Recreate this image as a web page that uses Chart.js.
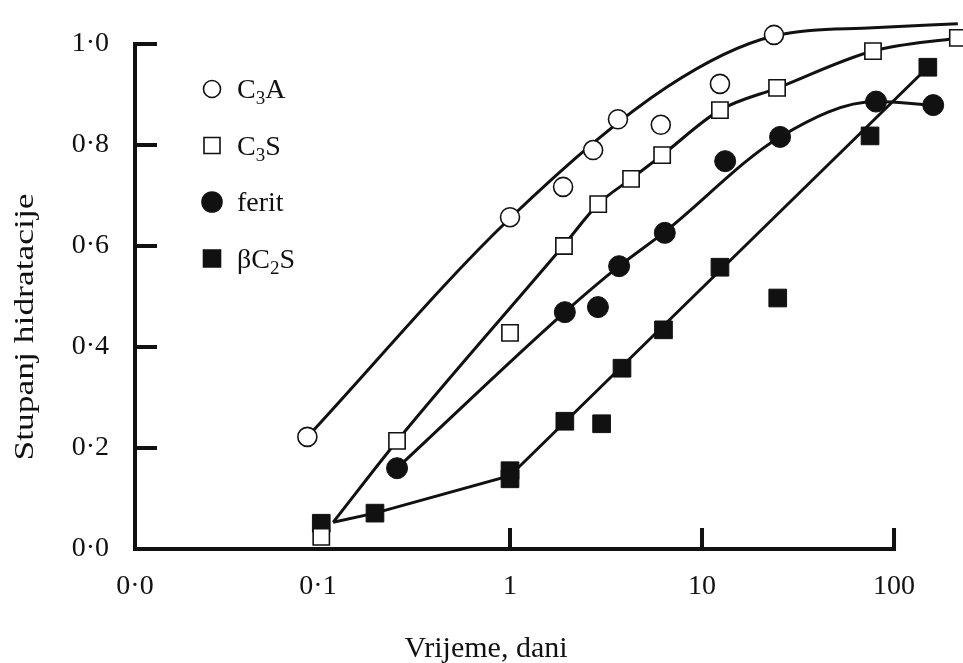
<!DOCTYPE html>
<html>
<head>
<meta charset="utf-8">
<title>Stupanj hidratacije</title>
<script src="https://cdn.jsdelivr.net/npm/chart.js@4.4.1/dist/chart.umd.min.js"></script>
<style>
  html, body { margin: 0; padding: 0; background: #fff; }
  #wrap { width: 963px; height: 663px; }
</style>
</head>
<body>
<div id="wrap"><canvas id="hydChart" width="963" height="663"></canvas></div>
<script>
// measured points (time in days, degree of hydration)
var c3aDays     = [0.088, 1.0, 1.89, 2.71, 3.65, 6.1, 12.4, 23.7, 77.7, 215];
var c3aDegree   = [0.222, 0.657, 0.717, 0.79, 0.851, 0.84, 0.921, 1.018, 1.034, 1.04];
var c3sDays     = [0.104, 0.258, 1.0, 1.91, 2.88, 4.27, 6.2, 12.4, 24.6, 77.7, 215];
var c3sDegree   = [0.024, 0.214, 0.428, 0.60, 0.683, 0.733, 0.78, 0.869, 0.913, 0.986, 1.012];
var feritDays   = [0.258, 1.93, 2.87, 3.7, 6.4, 13.2, 25.5, 80.6, 160];
var feritDegree = [0.16, 0.469, 0.479, 0.56, 0.626, 0.768, 0.816, 0.886, 0.879];
var c2sDays     = [0.104, 0.198, 1.0, 1.0, 1.93, 3.0, 3.83, 6.3, 12.4, 24.8, 75, 150];
var c2sDegree   = [0.051, 0.071, 0.155, 0.139, 0.253, 0.248, 0.358, 0.434, 0.558, 0.497, 0.818, 0.954];

// hand drawn trend curves as they appear in the figure
var c3aFitDays     = [0.088, 1.0, 6.57, 23.7, 77.7, 215];
var c3aFitDegree   = [0.222, 0.655, 0.915, 1.016, 1.032, 1.04];
var c3sFitDays     = [0.12, 0.258, 1.91, 2.88, 4.27, 6.2, 12.4, 24.8, 77.7, 215];
var c3sFitDegree   = [0.053, 0.214, 0.602, 0.683, 0.733, 0.78, 0.869, 0.913, 0.986, 1.012];
var feritFitDays   = [0.258, 1.93, 3.7, 6.3, 25.5, 80.6, 160];
var feritFitDegree = [0.16, 0.469, 0.56, 0.626, 0.816, 0.886, 0.879];
var c2sFitDays     = [0.12, 0.198, 1.0, 150];
var c2sFitDegree   = [0.053, 0.071, 0.145, 0.954];

// axes
var xMin = 0.01114, xMax = 228.7;
var xTickValues = [xMin, 0.1, 1, 10, 100];
var xTickLabels = ['0·0', '0·1', '1', '10', '100'];
var xTickMarks  = [1, 10, 100];
var yTickValues = [0, 0.2, 0.4, 0.6, 0.8, 1.0];

var FONT = "'Liberation Serif', 'Times New Roman', serif";
var INK = '#111';

function pts(xs, ys) {
    return xs.map(function (x, i) { return { x: x, y: ys[i] }; });
}

// smooth = monotone cubic, otherwise straight segments
function curve(xs, ys, smooth) {
    return {
        data: pts(xs, ys),
        showLine: true,
        pointRadius: 0,
        pointHoverRadius: 0,
        borderColor: INK,
        borderWidth: 3,
        cubicInterpolationMode: smooth ? 'monotone' : 'default',
        tension: 0,
        clip: false,
        order: 2
    };
}

function marks(label, xs, ys, style, radius, filled) {
    return {
        label: label,
        data: pts(xs, ys),
        showLine: false,
        pointStyle: style,
        pointRadius: radius,
        pointHoverRadius: radius,
        pointBackgroundColor: filled ? INK : '#fff',
        pointBorderColor: INK,
        pointBorderWidth: filled ? 1 : 1.6,
        clip: false,
        order: 1
    };
}

// legend entries: main text, subscript, rest
var legendItems = [
    { style: 'circle', filled: false, parts: ['C', '3', 'A'] },
    { style: 'rect', filled: false, parts: ['C', '3', 'S'] },
    { style: 'circle', filled: true, parts: ['ferit', '', ''] },
    { style: 'rect', filled: true, parts: ['βC', '2', 'S'] }
];

function drawMarker(ctx, style, filled, x, y) {
    ctx.beginPath();
    if (style === 'circle') {
        ctx.arc(x, y, filled ? 10 : 8.5, 0, Math.PI * 2);
    } else {
        var h = filled ? 8.5 : 8;
        ctx.rect(x - h, y - h, 2 * h, 2 * h);
    }
    ctx.fillStyle = filled ? INK : '#fff';
    ctx.fill();
    ctx.lineWidth = 1.6;
    ctx.strokeStyle = INK;
    ctx.stroke();
}

var paperPlugin = {
    id: 'paperLook',
    beforeDraw: function (chart) {
        var ctx = chart.ctx;
        ctx.save();
        ctx.fillStyle = '#fff';
        ctx.fillRect(0, 0, chart.width, chart.height);
        ctx.restore();
    },
    beforeDatasetsDraw: function (chart) {
        var ctx = chart.ctx, xs = chart.scales.x, ys = chart.scales.y;
        var x0 = xs.getPixelForValue(xMin);
        var y0 = ys.getPixelForValue(0);
        var xEnd = xs.getPixelForValue(100);
        var yTop = ys.getPixelForValue(1);
        ctx.save();
        ctx.strokeStyle = INK;
        ctx.lineWidth = 4;
        ctx.beginPath();
        ctx.moveTo(x0, yTop - 2);
        ctx.lineTo(x0, y0);
        ctx.moveTo(x0 - 2, y0);
        ctx.lineTo(xEnd + 2, y0);
        yTickValues.forEach(function (v) {
            var py = ys.getPixelForValue(v);
            ctx.moveTo(x0, py);
            ctx.lineTo(x0 + 22, py);
        });
        xTickMarks.forEach(function (v) {
            var px = xs.getPixelForValue(v);
            ctx.moveTo(px, y0);
            ctx.lineTo(px, y0 - 21);
        });
        ctx.stroke();
        ctx.restore();
    },
    afterDraw: function (chart) {
        var ctx = chart.ctx;
        ctx.save();
        ctx.fillStyle = INK;

        // legend
        legendItems.forEach(function (item, i) {
            var cy = 89 + i * 56.5;
            drawMarker(ctx, item.style, item.filled, 212, cy);
            var tx = 237, base = cy + 9;
            ctx.fillStyle = INK;
            ctx.textBaseline = 'alphabetic';
            ctx.textAlign = 'left';
            ctx.font = '28px ' + FONT;
            ctx.fillText(item.parts[0], tx, base);
            tx += ctx.measureText(item.parts[0]).width;
            if (item.parts[1]) {
                ctx.font = '19px ' + FONT;
                ctx.fillText(item.parts[1], tx, base + 6);
                tx += ctx.measureText(item.parts[1]).width;
            }
            ctx.font = '28px ' + FONT;
            ctx.fillText(item.parts[2], tx, base);
        });

        // axis titles
        ctx.font = '30px ' + FONT;
        ctx.textAlign = 'center';
        ctx.textBaseline = 'alphabetic';
        ctx.fillText('Vrijeme, dani', 486, 657);

        ctx.translate(33, 327);
        ctx.rotate(-Math.PI / 2);
        ctx.font = '28px ' + FONT;
        var w = ctx.measureText('Stupanj hidratacije').width;
        ctx.scale(267 / w, 1);
        ctx.fillText('Stupanj hidratacije', 0, 0);
        ctx.restore();
    }
};

var ctx = document.getElementById('hydChart').getContext('2d');
var chart = new Chart(ctx, {
    type: 'scatter',
    data: {
        datasets: [
            marks('C3A', c3aDays, c3aDegree, 'circle', 9.5, false),
            marks('C3S', c3sDays, c3sDegree, 'rect', 11.5, false),
            marks('ferit', feritDays, feritDegree, 'circle', 10.5, true),
            marks('βC2S', c2sDays, c2sDegree, 'rect', 12.5, true),
            curve(c3aFitDays, c3aFitDegree, true),
            curve(c3sFitDays, c3sFitDegree, true),
            curve(feritFitDays, feritFitDegree, true),
            curve(c2sFitDays, c2sFitDegree, false)
        ]
    },
    options: {
        responsive: false,
        animation: false,
        devicePixelRatio: 1,
        layout: {
            autoPadding: false,
            padding: { top: 44, right: 0, left: 0, bottom: 0 }
        },
        plugins: {
            legend: { display: false },
            tooltip: { enabled: false }
        },
        scales: {
            x: {
                type: 'logarithmic',
                min: xMin,
                max: xMax,
                grid: { display: false, drawTicks: false },
                border: { display: false },
                afterBuildTicks: function (scale) {
                    scale.ticks = xTickValues.map(function (v) { return { value: v }; });
                },
                afterFit: function (scale) {
                    scale.height = 114;
                    scale.paddingLeft = 0;
                    scale.paddingRight = 0;
                },
                ticks: {
                    autoSkip: false,
                    maxRotation: 0,
                    padding: 21,
                    color: INK,
                    font: { family: FONT, size: 28 },
                    callback: function (value, index) { return xTickLabels[index]; }
                }
            },
            y: {
                min: 0,
                max: 1,
                grid: { display: false, drawTicks: false },
                border: { display: false },
                afterBuildTicks: function (scale) {
                    scale.ticks = yTickValues.map(function (v) { return { value: v }; });
                },
                afterFit: function (scale) {
                    scale.width = 135;
                    scale.paddingTop = 0;
                    scale.paddingBottom = 0;
                },
                ticks: {
                    padding: 26,
                    color: INK,
                    font: { family: FONT, size: 28 },
                    callback: function (value) { return value.toFixed(1).replace('.', '·'); }
                }
            }
        }
    },
    plugins: [paperPlugin]
});
</script>
</body>
</html>
